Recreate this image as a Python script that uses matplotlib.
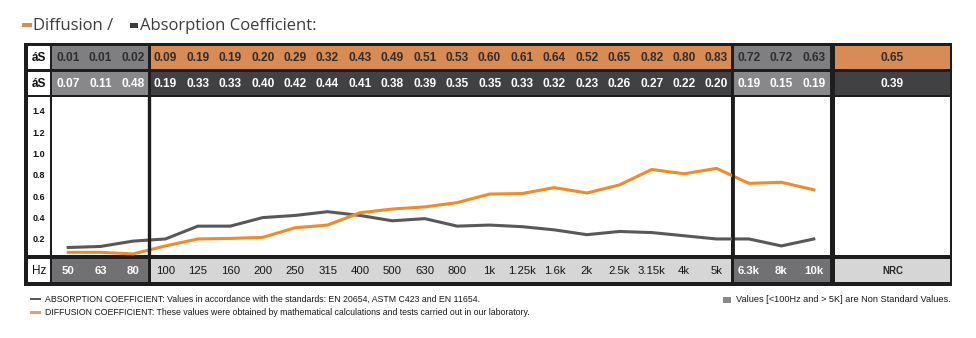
import numpy as np
import matplotlib
matplotlib.use("Agg")
import matplotlib.pyplot as plt
from matplotlib.patches import Rectangle

# ---------------- data ----------------
freq_labels = ["50", "63", "80", "100", "125", "160", "200", "250", "315", "400",
               "500", "630", "800", "1k", "1.25k", "1.6k", "2k", "2.5k", "3.15k",
               "4k", "5k", "6.3k", "8k", "10k"]
diffusion_table = [0.01, 0.01, 0.02, 0.09, 0.19, 0.19, 0.20, 0.29, 0.32, 0.43,
                   0.49, 0.51, 0.53, 0.60, 0.61, 0.64, 0.52, 0.65, 0.82, 0.80,
                   0.83, 0.72, 0.72, 0.63]
absorption_table = [0.07, 0.11, 0.48, 0.19, 0.33, 0.33, 0.40, 0.42, 0.44, 0.41,
                    0.38, 0.39, 0.35, 0.35, 0.33, 0.32, 0.23, 0.26, 0.27, 0.22,
                    0.20, 0.19, 0.15, 0.19]
nrc_diffusion = 0.65
nrc_absorption = 0.39
# curves as drawn in the chart
diffusion_curve = [0.075, 0.075, 0.06, 0.135, 0.20, 0.205, 0.215, 0.305, 0.33, 0.445,
                   0.48, 0.50, 0.54, 0.62, 0.625, 0.68, 0.63, 0.705, 0.85, 0.81,
                   0.86, 0.72, 0.73, 0.66]
absorption_curve = [0.12, 0.13, 0.18, 0.20, 0.32, 0.32, 0.40, 0.42, 0.455, 0.42,
                    0.37, 0.39, 0.32, 0.33, 0.315, 0.285, 0.24, 0.27, 0.26, 0.23,
                    0.20, 0.20, 0.135, 0.20]
y_ticks = [0.2, 0.4, 0.6, 0.8, 1.0, 1.2, 1.4]
row_label = "áS"
title_a = "Diffusion /"
title_b = "Absorption Coefficient:"
legend_abs = "ABSORPTION COEFFICIENT: Values in accordance with the standards: EN 20654, ASTM C423 and EN 11654."
legend_dif = "DIFFUSION COEFFICIENT: These values were obtained by mathematical calculations and tests carried out in our laboratory."
note_text = "Values [<100Hz and > 5K] are Non Standard Values."

# ---------------- fonts ----------------
NARROW_F = ["Liberation Sans", "DejaVu Sans"]
TITLE_F = ["Open Sans", "DejaVu Sans"]

# ---------------- colours ----------------
BLACK = "#1d1d1d"
ORANGE_CELL = "#d98b54"
DARK_CELL = "#414143"
GREY1 = "#7f7f81"
GREY2 = "#88888a"
HZ_GREY = "#717173"
HZ_LIGHT = "#d6d6d6"
ORANGE_LINE = "#f28a26"
GREY_LINE = "#58585a"

W, H = 976, 338
fig = plt.figure(figsize=(W / 100, H / 100), dpi=100)
bg = fig.add_axes([0, 0, 1, 1])
bg.set_xlim(0, W)
bg.set_ylim(H, 0)
bg.axis("off")


def rect(x0, y0, x1, y1, color, z=1):
    bg.add_patch(Rectangle((x0, y0), x1 - x0, y1 - y0, facecolor=color,
                           edgecolor="none", zorder=z))


# layout (pixels)
X0, X1 = 52.0, 830.0
n = len(freq_labels)
cw = (X1 - X0) / n
bounds = [X0 + k * cw for k in range(n + 1)]
centers = [X0 + (k + 0.5) * cw for k in range(n)]
rows = {"dif": (46, 69), "abs": (72, 95), "plot": (97, 255), "hz": (259, 282)}
LAB = (28, 50)
NRC = (835, 950)
SEP = 1.7
segments = [(0, 3), (3, 21), (21, 24)]

# frame
rect(24, 43, 952, 286, BLACK, 0)

seg_colors = {
    "dif": [GREY1, ORANGE_CELL, GREY1],
    "abs": [GREY2, DARK_CELL, GREY2],
    "plot": ["white", "white", "white"],
    "hz": [HZ_GREY, HZ_LIGHT, HZ_GREY],
}
for r, (y0, y1) in rows.items():
    rect(LAB[0], y0, LAB[1], y1, "white")
    for (a, b), c in zip(segments, seg_colors[r]):
        xa = bounds[a] + (SEP if a > 0 else 0.3)
        xb = bounds[b] - (SEP if b < n else 0)
        rect(xa, y0, xb, y1, c)
    nrc_c = {"dif": ORANGE_CELL, "abs": DARK_CELL, "plot": "white", "hz": HZ_LIGHT}[r]
    rect(NRC[0], y0, NRC[1], y1, nrc_c)

# row labels
for r in ("dif", "abs"):
    y0, y1 = rows[r]
    bg.text((LAB[0] + LAB[1]) / 2, (y0 + y1) / 2 + 0.5, row_label, ha="center",
            va="center", fontsize=8.5, fontweight="bold", family=NARROW_F,
            color="#111111", zorder=5)
bg.text((LAB[0] + LAB[1]) / 2, (rows["hz"][0] + rows["hz"][1]) / 2 + 0.5, "Hz",
        ha="center", va="center", fontsize=8.5, family=NARROW_F, color="#111111", zorder=5)

# table values
VAL_FS = 8.6
for i in range(n):
    cx = centers[i]
    grey_seg = i < 3 or i >= 21
    bg.text(cx, (rows["dif"][0] + rows["dif"][1]) / 2 + 0.5, f"{diffusion_table[i]:.2f}",
            ha="center", va="center", fontsize=VAL_FS, fontweight="bold", family=NARROW_F,
            color="#2e2e2e", zorder=5)
    bg.text(cx, (rows["abs"][0] + rows["abs"][1]) / 2 + 0.5, f"{absorption_table[i]:.2f}",
            ha="center", va="center", fontsize=VAL_FS, fontweight="bold", family=NARROW_F,
            color="white", zorder=5)
    bg.text(cx, (rows["hz"][0] + rows["hz"][1]) / 2 + 0.5, freq_labels[i],
            ha="center", va="center", fontsize=8.2, family=NARROW_F,
            fontweight="bold" if grey_seg else "normal",
            color="white" if grey_seg else "#151515", zorder=5)

ncx = (NRC[0] + NRC[1]) / 2
bg.text(ncx, (rows["dif"][0] + rows["dif"][1]) / 2 + 0.5, f"{nrc_diffusion:.2f}",
        ha="center", va="center", fontsize=VAL_FS, fontweight="bold", family=NARROW_F,
        color="#2e2e2e", zorder=5)
bg.text(ncx, (rows["abs"][0] + rows["abs"][1]) / 2 + 0.5, f"{nrc_absorption:.2f}",
        ha="center", va="center", fontsize=VAL_FS, fontweight="bold", family=NARROW_F,
        color="white", zorder=5)
bg.text(ncx, (rows["hz"][0] + rows["hz"][1]) / 2, "NRC",
        ha="center", va="center", fontsize=7, fontweight="bold", family=NARROW_F,
        color="#222222", zorder=5)

# title
rect(22, 22.5, 32, 27, ORANGE_CELL, 2)
bg.text(33, 30, title_a, ha="left", va="baseline", fontsize=12, family=TITLE_F,
        color="#3c3c3c", zorder=5)
rect(130, 22.5, 137.5, 27.5, "#3c3c3e", 2)
bg.text(140, 30, title_b, ha="left", va="baseline", fontsize=12, family=TITLE_F,
        color="#3c3c3c", zorder=5)

# footer legend
LEG_FS = 6.35
rect(30, 297.8, 40.5, 300.3, GREY_LINE, 2)
bg.text(45, 299, legend_abs, ha="left", va="center", fontsize=LEG_FS, family=NARROW_F,
        color="#1a1a1a", zorder=5)
rect(30, 311.3, 40.5, 313.8, "#e7a26a", 2)
bg.text(45, 312.5, legend_dif, ha="left", va="center", fontsize=LEG_FS, family=NARROW_F,
        color="#1a1a1a", zorder=5)
rect(723, 296.5, 730.5, 302.5, "#8a8a8c", 2)
bg.text(736, 299, note_text, ha="left", va="center", fontsize=6.6, family=NARROW_F,
        color="#1a1a1a", zorder=5)

# ---------------- plot ----------------
ax = fig.add_axes([X0 / W, 1 - rows["plot"][1] / H, (X1 - X0) / W,
                   (rows["plot"][1] - rows["plot"][0]) / H])
ax.patch.set_alpha(0)
x = np.arange(n)
ax.plot(x, absorption_curve, color=GREY_LINE, lw=2.2, solid_joinstyle="miter", zorder=3,
        clip_on=False)
ax.plot(x, diffusion_curve, color=ORANGE_LINE, lw=2.2, solid_joinstyle="miter", zorder=3,
        clip_on=False)
ax.axvline(2.5, color=BLACK, lw=2.4, zorder=6)
ax.axvline(20.5, color=BLACK, lw=2.0, zorder=6)
ax.set_xlim(-0.5, n - 0.5)
ax.set_ylim(0.05, 1.528)
ax.set_xticks([])
ax.set_yticks(y_ticks)
ax.set_yticklabels([f"{t:.1f}" for t in y_ticks], fontsize=6.5, fontweight="bold",
                   family=["Liberation Sans", "DejaVu Sans"], color="#111111")
ax.tick_params(axis="y", length=0, pad=5)
for s in ax.spines.values():
    s.set_visible(False)

fig.savefig("out.png", dpi=100)
